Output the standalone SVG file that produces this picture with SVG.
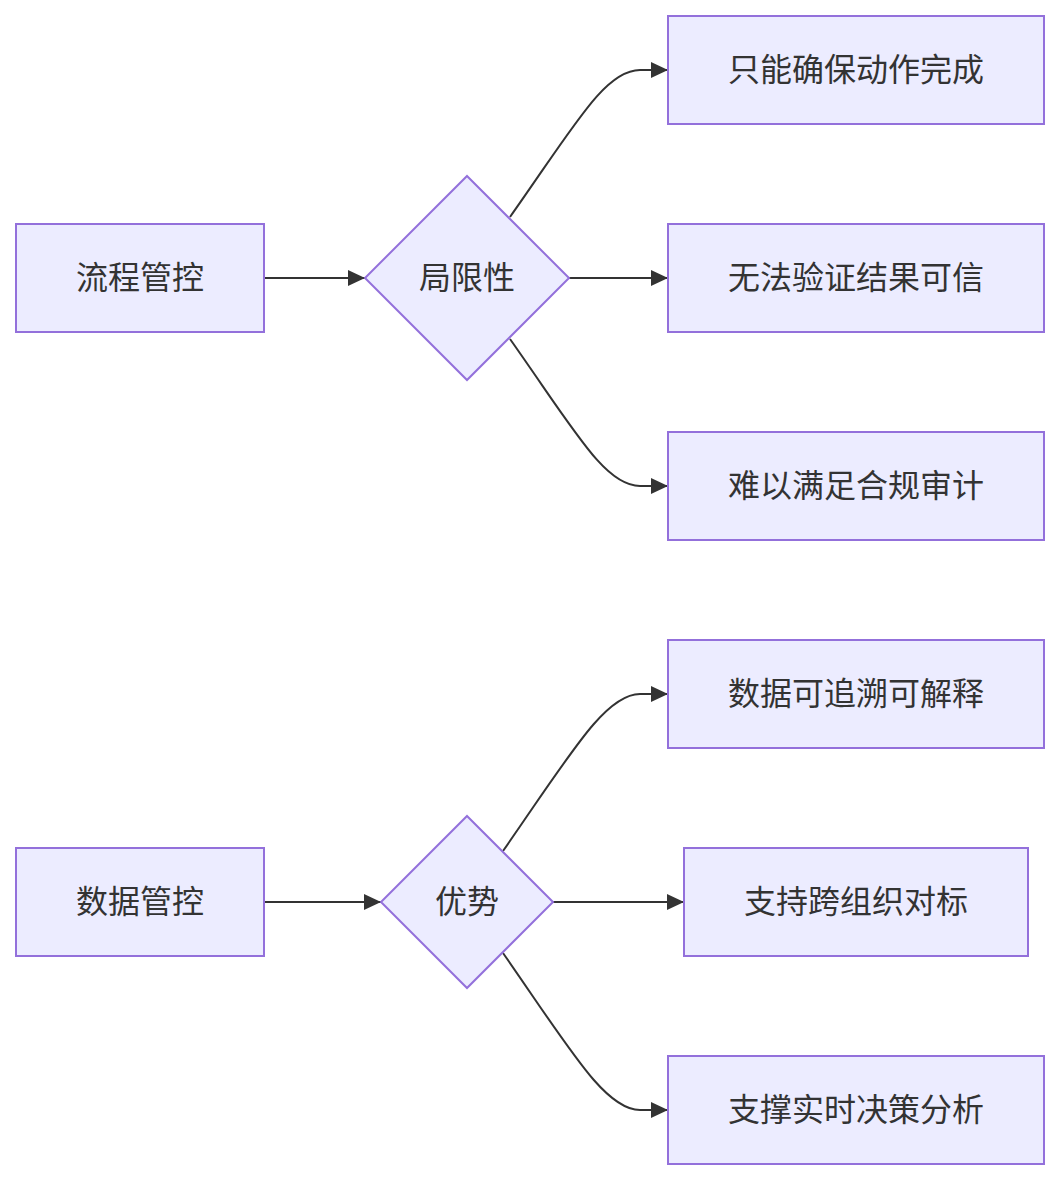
<svg xmlns="http://www.w3.org/2000/svg" width="1060" height="1180" viewBox="0 0 1060 1180">
<style>
.n{fill:#ECECFF;stroke:#9370DB;stroke-width:2}
.t{font-family:"Noto Sans CJK SC","Liberation Sans",sans-serif;font-size:32px;fill:#333;text-anchor:middle;dominant-baseline:central}
.e{fill:none;stroke:#333;stroke-width:2}
</style>
<defs>
<marker id="ah" viewBox="0 0 10 10" refX="10" refY="5" markerWidth="17" markerHeight="16" markerUnits="userSpaceOnUse" orient="auto" preserveAspectRatio="none">
<path d="M0,0 L10,5 L0,10 z" fill="#333"/>
</marker>
</defs>
<rect width="1060" height="1180" fill="#fff"/>
<g id="connectors">
<path class="e" d="M264,278 L365,278" marker-end="url(#ah)"/>
<path class="e" d="M510,217 C575,125 605,70 640,70 L668,70" marker-end="url(#ah)"/>
<path class="e" d="M569,278 L668,278" marker-end="url(#ah)"/>
<path class="e" d="M510,339 C575,431 605,486 640,486 L668,486" marker-end="url(#ah)"/>
<path class="e" d="M264,902 L381,902" marker-end="url(#ah)"/>
<path class="e" d="M503,851 C570,755 605,694 640,694 L668,694" marker-end="url(#ah)"/>
<path class="e" d="M553,902 L684,902" marker-end="url(#ah)"/>
<path class="e" d="M503,953 C570,1049 605,1110 640,1110 L668,1110" marker-end="url(#ah)"/>
</g>
<g id="A"><rect class="n" x="16" y="224" width="248" height="108"/><text class="t" x="140" y="275">流程管控</text></g>
<g id="B"><polygon class="n" points="467,176 569,278 467,380 365,278"/><text class="t" x="467" y="275">局限性</text></g>
<g id="C"><rect class="n" x="668" y="16" width="376" height="108"/><text class="t" x="856" y="67">只能确保动作完成</text></g>
<g id="D"><rect class="n" x="668" y="224" width="376" height="108"/><text class="t" x="856" y="275">无法验证结果可信</text></g>
<g id="E"><rect class="n" x="668" y="432" width="376" height="108"/><text class="t" x="856" y="483">难以满足合规审计</text></g>
<g id="F"><rect class="n" x="16" y="848" width="248" height="108"/><text class="t" x="140" y="899">数据管控</text></g>
<g id="G"><polygon class="n" points="467,816 553,902 467,988 381,902"/><text class="t" x="467" y="899">优势</text></g>
<g id="H"><rect class="n" x="668" y="640" width="376" height="108"/><text class="t" x="856" y="691">数据可追溯可解释</text></g>
<g id="I"><rect class="n" x="684" y="848" width="344" height="108"/><text class="t" x="856" y="899">支持跨组织对标</text></g>
<g id="J"><rect class="n" x="668" y="1056" width="376" height="108"/><text class="t" x="856" y="1107">支撑实时决策分析</text></g>
</svg>
